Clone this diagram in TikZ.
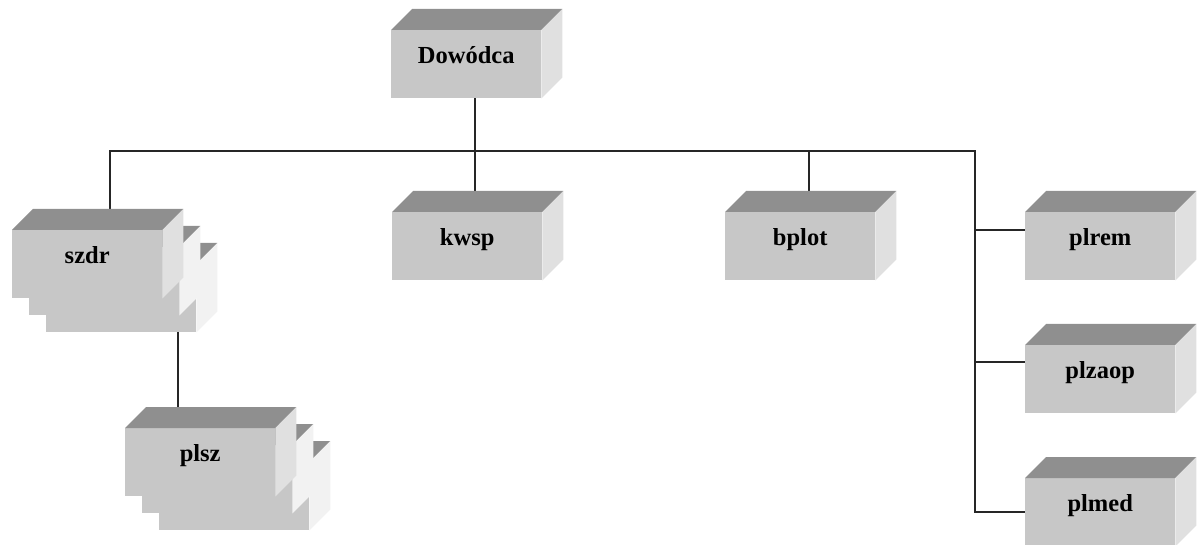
\documentclass[tikz,border=0pt]{standalone}
\usepackage{fontspec}
\setmainfont{Liberation Serif}
\usetikzlibrary{calc}
\pgfdeclarelayer{bg}
\pgfsetlayers{bg,main}
\definecolor{frontc}{gray}{0.78}
\definecolor{topc}{gray}{0.56}
\definecolor{sidec}{gray}{0.88}
\definecolor{sidecopy}{gray}{0.95}
\tikzset{
  front/.style={rectangle, anchor=north west, minimum width=150pt, minimum height=68pt,
    inner sep=0pt, fill=frontc, text height=10pt, text depth=12pt,
    font=\bfseries\fontsize{24.5}{26}\selectfont},
  conn/.style={line width=2pt, black!85}
}
\newcommand\cubebox[4]{%
  \node[front] (#1) at (#2) {#3};
  \fill[topc] (#1.north west) -- ++(21,-21) -- ($(#1.north east)+(21,-21)$) -- (#1.north east) -- cycle;
  \fill[#4] (#1.north east) -- ++(21,-21) -- ($(#1.south east)+(21,-21)$) -- (#1.south east) -- cycle;
}
\begin{document}
\begin{tikzpicture}[x=1pt,y=-1pt]
\useasboundingbox (0,0) rectangle (1197,545);
% boxes
\cubebox{dow}{391,30}{Dowódca}{sidec}
\cubebox{kwsp}{392,212}{kwsp}{sidec}
\cubebox{bplot}{725,212}{bplot}{sidec}
\cubebox{plrem}{1025,212}{plrem}{sidec}
\cubebox{plzaop}{1025,345}{plzaop}{sidec}
\cubebox{plmed}{1025,478}{plmed}{sidec}
\cubebox{szdrC}{46,264}{}{sidecopy}
\cubebox{szdrB}{29,247}{}{sidecopy}
\cubebox{szdr}{12,230}{szdr}{sidec}
\cubebox{plszC}{159,462}{}{sidecopy}
\cubebox{plszB}{142,445}{}{sidecopy}
\cubebox{plsz}{125,428}{plsz}{sidec}
% connectors
\begin{pgfonlayer}{bg}
\coordinate (dowout) at ($(dow.south)+(9,0)$);
\coordinate (bus) at ($(dow.south)+(9,53)$);
\coordinate (kwsptop) at ($(kwsp.north)+(8,0)$);
\coordinate (bplottop) at ($(bplot.north)+(9,0)$);
\coordinate (szdrtop) at ($(szdr.north west)+(98,0)$);
\coordinate (trunk) at ($(plrem.north west)+(-50,0)$);
\coordinate (remin) at ($(plrem.north west)+(0,18)$);
\coordinate (zaopin) at ($(plzaop.north west)+(0,17)$);
\coordinate (plsztop) at ($(plsz.north west)!0.35!(plsz.north east)$);
\draw[conn] (dowout) -- (kwsptop);
\draw[conn] (szdrtop) -- (szdrtop |- bus) -- (trunk |- bus) -- (trunk |- plmed.west) -- (plmed.west);
\draw[conn] (bplottop) -- (bplottop |- bus);
\draw[conn] (remin) -- (remin -| trunk);
\draw[conn] (zaopin) -- (zaopin -| trunk);
\draw[conn] (plsztop) -- (plsztop |- szdrC.south);
\end{pgfonlayer}
\end{tikzpicture}
\end{document}
